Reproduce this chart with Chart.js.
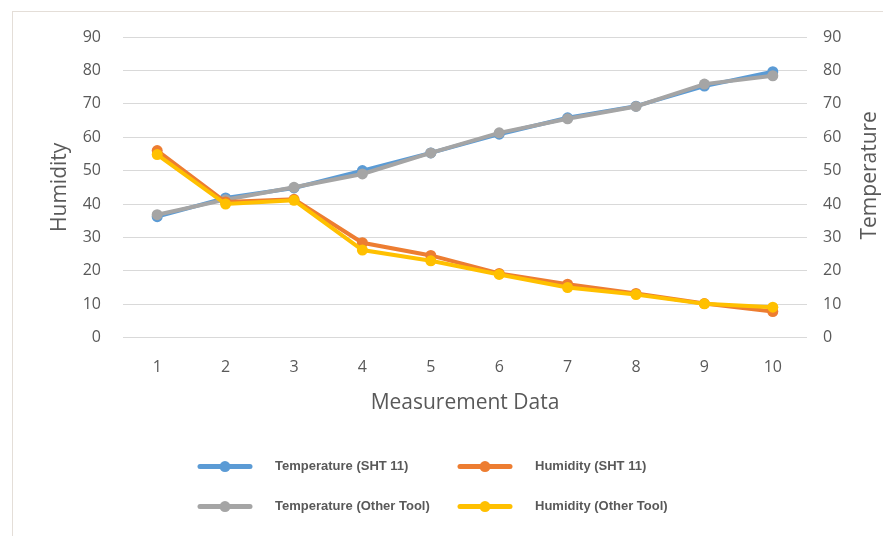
<!DOCTYPE html>
<html>
<head>
<meta charset="utf-8">
<script src="https://cdn.jsdelivr.net/npm/chart.js@4.4.1/dist/chart.umd.min.js"></script>
<style>
    html, body { margin: 0; padding: 0; background: #ffffff; }
    #wrap { position: relative; width: 883px; height: 536px; overflow: hidden; }
    #frame { position: absolute; left: 12px; top: 11px; width: 900px; height: 560px; border: 1px solid #e4ded8; }
    #Linha { position: absolute; left: 0; top: 0; }
</style>
</head>
<body>
<div id="wrap">
    <div id="frame"></div>
    <canvas id="Linha" width="883" height="536"></canvas>
</div>
<script>
const labelsMedida = ['1', '2', '3', '4', '5', '6', '7', '8', '9', '10'];

const tempSht = [36.2, 41.8, 44.8, 50.0, 55.3, 60.9, 65.8, 69.3, 75.3, 79.6];
const humSht = [56.0, 40.6, 41.4, 28.4, 24.6, 19.2, 16.0, 13.2, 10.2, 7.8];
const tempOutro = [36.8, 41.3, 45.0, 49.0, 55.3, 61.3, 65.5, 69.2, 75.9, 78.4];
const humOutro = [54.8, 40.0, 41.1, 26.2, 23.0, 18.9, 15.0, 12.9, 10.1, 9.1];

const cinzaTexto = '#595959';
const tituloDireito = 'Temperature';

// legenda em grade 2x2 e titulo do eixo direito (lido de baixo para cima)
const legendaGrade = {
    id: 'legendaGrade',
    afterDraw(chart) {
        const ctx = chart.ctx;
        const area = chart.chartArea;
        const colunas = [area.left + 77, area.left + 337];
        const linhas = [area.bottom + 129, area.bottom + 169];
        chart.data.datasets.forEach((ds, i) => {
            const x = colunas[i % 2];
            const y = linhas[Math.floor(i / 2)];
            ctx.save();
            ctx.strokeStyle = ds.borderColor;
            ctx.lineWidth = 5;
            ctx.lineCap = 'round';
            ctx.beginPath();
            ctx.moveTo(x, y);
            ctx.lineTo(x + 50, y);
            ctx.stroke();
            ctx.fillStyle = ds.borderColor;
            ctx.beginPath();
            ctx.arc(x + 25, y, 5.5, 0, Math.PI * 2);
            ctx.fill();
            ctx.fillStyle = cinzaTexto;
            ctx.font = 'bold 13px "Liberation Sans"';
            ctx.textBaseline = 'middle';
            ctx.fillText(ds.label, x + 75, y);
            ctx.restore();
        });

        const eixo = chart.scales.y1;
        ctx.save();
        ctx.translate(eixo.right - 13, (area.top + area.bottom) / 2 - 12);
        ctx.rotate(-Math.PI / 2);
        ctx.fillStyle = cinzaTexto;
        ctx.font = '21px "Open Sans"';
        ctx.textAlign = 'center';
        ctx.textBaseline = 'middle';
        ctx.fillText(tituloDireito, 0, 0);
        ctx.restore();
    }
};

const dataMedida = {
    labels: labelsMedida,
    datasets: [
        {
            label: 'Temperature (SHT 11)',
            borderColor: '#5B9BD5',
            backgroundColor: '#5B9BD5',
            data: tempSht,
            yAxisID: 'y1',
            order: 4,
        },
        {
            label: 'Humidity (SHT 11)',
            borderColor: '#ED7D31',
            backgroundColor: '#ED7D31',
            data: humSht,
            yAxisID: 'y',
            order: 2,
        },
        {
            label: 'Temperature (Other Tool)',
            borderColor: '#A5A5A5',
            backgroundColor: '#A5A5A5',
            data: tempOutro,
            yAxisID: 'y1',
            order: 3,
        },
        {
            label: 'Humidity (Other Tool)',
            borderColor: '#FFC000',
            backgroundColor: '#FFC000',
            data: humOutro,
            yAxisID: 'y',
            order: 1,
        }
    ]
};

const configLinha = {
    type: 'line',
    data: dataMedida,
    plugins: [legendaGrade],
    options: {
        responsive: false,
        animation: false,
        layout: { padding: { left: 44, right: 0, top: 37, bottom: 116 } },
        elements: {
            line: { borderWidth: 4, tension: 0 },
            point: { radius: 5.5, borderWidth: 0, hoverRadius: 5.5 }
        },
        plugins: {
            legend: { display: false },
            tooltip: { enabled: false }
        },
        scales: {
            x: {
                offset: true,
                grid: { display: false, offset: true },
                border: { display: false },
                ticks: { color: cinzaTexto, font: { family: 'Open Sans', size: 16 }, padding: 12 },
                title: {
                    display: true,
                    text: 'Measurement Data',
                    color: cinzaTexto,
                    font: { family: 'Open Sans', size: 21 },
                    padding: { top: 2 }
                }
            },
            y: {
                position: 'left',
                min: 0,
                max: 90,
                afterFit: (s) => { s.width = 79; },
                ticks: { stepSize: 10, color: cinzaTexto, font: { family: 'Open Sans', size: 16 }, padding: 22 },
                grid: { color: '#d9d9d9', lineWidth: 1, drawTicks: false },
                border: { display: false },
                title: {
                    display: true,
                    text: 'Humidity',
                    color: cinzaTexto,
                    font: { family: 'Open Sans', size: 21 },
                    padding: { top: 3, bottom: 10 }
                }
            },
            y1: {
                position: 'right',
                min: 0,
                max: 90,
                afterFit: (s) => { s.width = 76; },
                ticks: { stepSize: 10, color: cinzaTexto, font: { family: 'Open Sans', size: 16 }, padding: 16 },
                grid: { display: false, drawTicks: false },
                border: { display: false },
                title: { display: false }
            }
        }
    }
};

const myChart = new Chart(
    document.getElementById('Linha'),
    configLinha
);
</script>
</body>
</html>
